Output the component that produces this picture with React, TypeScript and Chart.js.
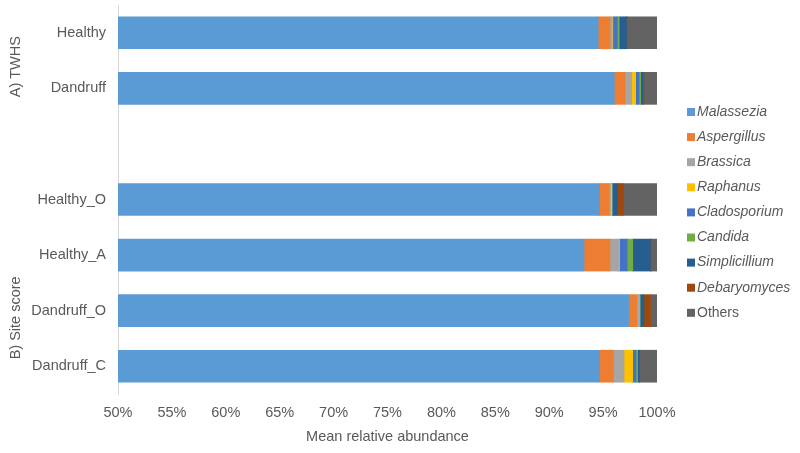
import React, { useEffect, useRef } from "react";
import { Chart, registerables } from "chart.js";

Chart.register(...registerables);

const categories = ["Healthy", "Dandruff", "", "Healthy_O", "Healthy_A", "Dandruff_O", "Dandruff_C"];
const seriesNames = ["Malassezia", "Aspergillus", "Brassica", "Raphanus", "Cladosporium", "Candida", "Simplicillium", "Debaryomyces", "Others"];
const seriesColors = ["#5B9BD5", "#ED7D31", "#A5A5A5", "#FFC000", "#4472C4", "#70AD47", "#255E91", "#9E480E", "#636363"];

const malassezia = [94.55, 96.04, null, 94.65, 93.23, 97.37, 94.65];
const aspergillus = [1.09, 0.99, null, 0.93, 2.41, 0.74, 1.3];
const brassica = [0.21, 0.62, null, 0.1, 0.83, 0.21, 0.99];
const raphanus = [0.05, 0.37, null, 0.12, 0.05, 0.05, 0.8];
const cladosporium = [0.41, 0.31, null, 0.05, 0.71, 0.05, 0.31];
const candida = [0.18, 0.16, null, 0.03, 0.52, 0.03, 0.15];
const simplicillium = [0.68, 0.19, null, 0.46, 1.64, 0.34, 0.15];
const debaryomyces = [0.05, 0.1, null, 0.53, 0.05, 0.61, 0.05];
const others = [2.78, 1.22, null, 3.13, 0.56, 0.6, 1.6];

const seriesValues = [malassezia, aspergillus, brassica, raphanus, cladosporium, candida, simplicillium, debaryomyces, others];

const xTicks = [50, 55, 60, 65, 70, 75, 80, 85, 90, 95, 100];
// group label centre, in category units
const groupLabels = [
  { text: "A) TWHS", at: 0.61 },
  { text: "B) Site score", at: 5.13 },
];

const FONT = "'Liberation Sans', Arial, sans-serif";
const TEXT = "#595959";
const FS = 14.5;

const extrasPlugin = {
  id: "extras",
  afterDraw(chart: any) {
    const ctx = chart.ctx;
    const y = chart.scales.y;
    ctx.save();
    ctx.fillStyle = TEXT;
    ctx.font = `${FS}px ${FONT}`;
    ctx.textAlign = "center";
    ctx.textBaseline = "middle";
    groupLabels.forEach((g) => {
      const cy = y.getPixelForValue(g.at);
      ctx.save();
      ctx.translate(16, cy);
      ctx.rotate(-Math.PI / 2);
      ctx.fillText(g.text, 0, 0);
      ctx.restore();
    });
    const lx = 687;
    const ly0 = 112;
    const step = 25.1;
    ctx.textAlign = "left";
    seriesNames.forEach((name, i) => {
      const cy = ly0 + i * step;
      ctx.fillStyle = seriesColors[i];
      ctx.fillRect(lx, cy - 4, 8, 8);
      ctx.fillStyle = TEXT;
      ctx.font = name === "Others" ? `14px ${FONT}` : `italic 14px ${FONT}`;
      ctx.fillText(name, lx + 10, cy);
    });
    ctx.restore();
  },
};

export default function App() {
  const ref = useRef<HTMLCanvasElement>(null);
  useEffect(() => {
    if (!ref.current) return;
    const chart = new Chart(ref.current, {
      type: "bar",
      data: {
        labels: categories,
        datasets: seriesNames.map((name, i) => ({
          label: name,
          data: seriesValues[i] as any,
          backgroundColor: seriesColors[i],
          borderWidth: 0,
          barThickness: 32,
        })),
      },
      options: {
        indexAxis: "y",
        animation: false,
        responsive: true,
        maintainAspectRatio: false,
        layout: { padding: { top: 5, right: 143, left: 0, bottom: 0 } },
        plugins: {
          legend: { display: false },
          tooltip: { enabled: false },
        },
        scales: {
          x: {
            stacked: true,
            min: 50,
            max: 100,
            afterBuildTicks: (scale: any) => {
              scale.ticks = xTicks.map((v) => ({ value: v }));
            },
            afterFit: (scale: any) => {
              scale.height = 59;
              scale.paddingLeft = 0;
              scale.paddingRight = 0;
            },
            grid: { display: false, drawTicks: false },
            border: { display: false },
            ticks: {
              padding: 10,
              color: TEXT,
              font: { family: FONT, size: FS },
              callback: (v: any) => v + "%",
            },
            title: {
              display: true,
              text: "Mean relative abundance",
              color: TEXT,
              font: { family: FONT, size: FS },
              padding: { top: 4, bottom: 7 },
            },
          },
          y: {
            stacked: true,
            afterFit: (scale: any) => {
              scale.width = 118;
              scale.paddingTop = 0;
              scale.paddingBottom = 0;
            },
            grid: { display: false, drawTicks: false },
            border: { display: true, color: "#D9D9D9", width: 1 },
            ticks: {
              padding: 12,
              color: TEXT,
              font: { family: FONT, size: FS },
            },
          },
        },
      },
      plugins: [extrasPlugin],
    });
    return () => chart.destroy();
  }, []);
  return (
    <div style={{ position: "absolute", left: 0, top: 0, width: 800, height: 453 }}>
      <canvas ref={ref} />
    </div>
  );
}
